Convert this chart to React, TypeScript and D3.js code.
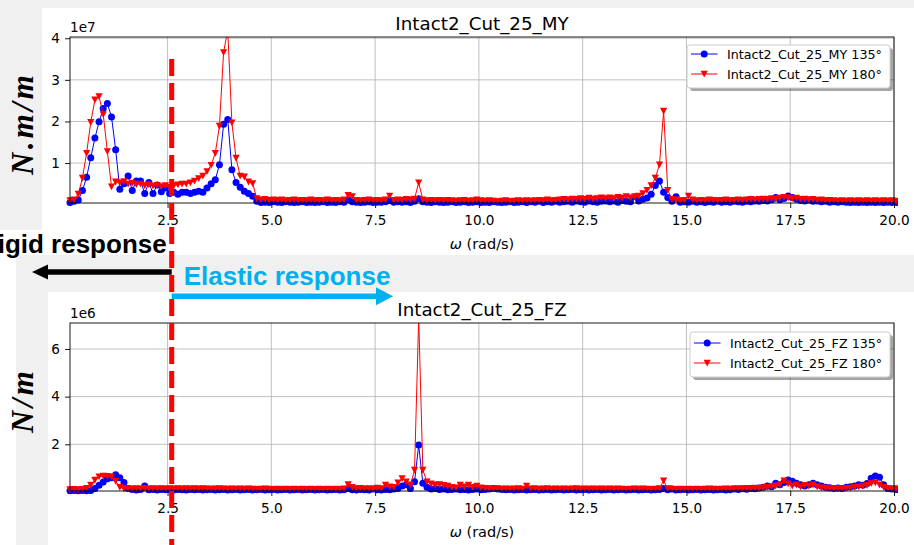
import * as d3 from "d3";
import { useEffect, useRef } from "react";

const width = 914;
const height = 545;
const PLOT_LEFT = 70;
const PLOT_RIGHT = 894;
const FONT = "'DejaVu Sans', sans-serif";
const BOLD_FONT = "'Liberation Sans', Arial, sans-serif";

// frequency grid (rad/s)
const OMEGA_START = 0.15;
const OMEGA_STEP = 0.1;
const OMEGA_MAX = 20;
const RIGID_LIMIT = 2.6;

// MY amplitude, x1e7 N.m/m
const my135 = [
  0.05, 0.08, 0.11, 0.34, 0.66, 1.13, 1.6, 1.99, 2.31, 2.43,
  2.11, 1.32, 0.37, 0.5, 0.69, 0.34, 0.57, 0.57, 0.27, 0.53,
  0.27, 0.47, 0.31, 0.4, 0.27, 0.3, 0.25, 0.3, 0.3, 0.27,
  0.3, 0.32, 0.3, 0.4, 0.5, 0.6, 0.96, 1.93, 2.05, 0.84,
  0.53, 0.42, 0.32, 0.27, 0.2, 0.08, 0.05, 0.06, 0.05, 0.07,
  0.06, 0.05, 0.07, 0.06, 0.05, 0.06, 0.07, 0.05, 0.06, 0.05,
  0.06, 0.07, 0.05, 0.06, 0.05, 0.07, 0.06, 0.12, 0.07, 0.06,
  0.05, 0.06, 0.07, 0.05, 0.06, 0.06, 0.07, 0.1, 0.06, 0.07,
  0.06, 0.07, 0.05, 0.08, 0.14, 0.07, 0.06, 0.05, 0.07, 0.06,
  0.05, 0.06, 0.07, 0.05, 0.06, 0.07, 0.05, 0.06, 0.07, 0.05,
  0.06, 0.05, 0.07, 0.06, 0.05, 0.06, 0.07, 0.05, 0.06, 0.07,
  0.05, 0.07, 0.06, 0.08, 0.05, 0.07, 0.06, 0.08, 0.06, 0.07,
  0.08, 0.06, 0.09, 0.07, 0.06, 0.09, 0.07, 0.06, 0.08, 0.09,
  0.07, 0.09, 0.06, 0.1, 0.08, 0.07, 0.19, 0.09, 0.13, 0.16,
  0.25, 0.46, 0.57, 0.3, 0.17, 0.08, 0.19, 0.06, 0.07, 0.06,
  0.08, 0.06, 0.07, 0.05, 0.07, 0.06, 0.08, 0.06, 0.07, 0.06,
  0.08, 0.07, 0.06, 0.08, 0.07, 0.09, 0.08, 0.1, 0.09, 0.12,
  0.17, 0.12, 0.15, 0.21, 0.17, 0.13, 0.1, 0.09, 0.11, 0.08,
  0.09, 0.07, 0.08, 0.06, 0.07, 0.06, 0.07, 0.06, 0.05, 0.06,
  0.05, 0.06, 0.05, 0.06, 0.05, 0.06, 0.05, 0.06, 0.05, 0.05,
];
const my180 = [
  0.1, 0.12, 0.26, 0.64, 1.24, 1.98, 2.52, 2.6, 2.17, 1.28,
  0.43, 0.55, 0.53, 0.56, 0.5, 0.52, 0.49, 0.5, 0.46, 0.48,
  0.45, 0.47, 0.44, 0.46, 0.42, 0.46, 0.48, 0.5, 0.5, 0.53,
  0.57, 0.63, 0.69, 0.8, 0.95, 1.24, 1.89, 3.66, 4.2, 1.97,
  1.12, 0.69, 0.67, 0.55, 0.51, 0.15, 0.12, 0.13, 0.11, 0.12,
  0.11, 0.12, 0.1, 0.11, 0.12, 0.1, 0.11, 0.1, 0.12, 0.1,
  0.11, 0.1, 0.12, 0.1, 0.11, 0.1, 0.12, 0.23, 0.2, 0.11,
  0.1, 0.11, 0.12, 0.1, 0.11, 0.1, 0.12, 0.21, 0.11, 0.12,
  0.11, 0.13, 0.12, 0.14, 0.53, 0.12, 0.1, 0.11, 0.1, 0.11,
  0.1, 0.11, 0.1, 0.09, 0.1, 0.11, 0.09, 0.1, 0.12, 0.1,
  0.09, 0.1, 0.09, 0.08, 0.09, 0.1, 0.08, 0.09, 0.1, 0.09,
  0.1, 0.09, 0.1, 0.11, 0.1, 0.12, 0.1, 0.11, 0.12, 0.13,
  0.12, 0.14, 0.13, 0.15, 0.13, 0.16, 0.14, 0.15, 0.17, 0.15,
  0.17, 0.15, 0.18, 0.16, 0.2, 0.17, 0.19, 0.21, 0.27, 0.35,
  0.46, 0.64, 0.96, 2.25, 0.35, 0.13, 0.12, 0.1, 0.11, 0.21,
  0.12, 0.1, 0.11, 0.1, 0.12, 0.11, 0.1, 0.11, 0.12, 0.1,
  0.11, 0.12, 0.11, 0.12, 0.13, 0.12, 0.13, 0.14, 0.13, 0.15,
  0.14, 0.16, 0.18, 0.17, 0.15, 0.16, 0.13, 0.14, 0.12, 0.13,
  0.11, 0.12, 0.1, 0.11, 0.1, 0.09, 0.1, 0.09, 0.1, 0.09,
  0.1, 0.09, 0.1, 0.09, 0.1, 0.09, 0.1, 0.09, 0.1, 0.09,
];

// FZ amplitude, x1e6 N/m
const fz135 = [
  0.05, 0.06, 0.05, 0.06, 0.05, 0.06, 0.15, 0.28, 0.42, 0.55,
  0.6, 0.72, 0.6, 0.4, 0.15, 0.1, 0.08, 0.1, 0.25, 0.09,
  0.1, 0.08, 0.1, 0.09, 0.1, 0.08, 0.1, 0.09, 0.08, 0.1,
  0.09, 0.1, 0.08, 0.09, 0.1, 0.08, 0.09, 0.1, 0.08, 0.09,
  0.1, 0.08, 0.09, 0.1, 0.08, 0.09, 0.1, 0.08, 0.09, 0.1,
  0.08, 0.09, 0.1, 0.08, 0.09, 0.1, 0.08, 0.09, 0.1, 0.08,
  0.09, 0.1, 0.08, 0.09, 0.1, 0.08, 0.09, 0.15, 0.09, 0.08,
  0.1, 0.09, 0.08, 0.12, 0.09, 0.08, 0.1, 0.09, 0.12, 0.15,
  0.25, 0.3, 0.15, 0.43, 1.97, 0.36, 0.2, 0.12, 0.15, 0.1,
  0.12, 0.09, 0.1, 0.12, 0.09, 0.1, 0.08, 0.1, 0.12, 0.09,
  0.1, 0.12, 0.14, 0.12, 0.1, 0.09, 0.1, 0.08, 0.09, 0.1,
  0.08, 0.09, 0.1, 0.08, 0.09, 0.1, 0.08, 0.09, 0.1, 0.08,
  0.09, 0.1, 0.08, 0.09, 0.1, 0.08, 0.09, 0.1, 0.08, 0.09,
  0.1, 0.08, 0.09, 0.1, 0.08, 0.09, 0.1, 0.08, 0.09, 0.1,
  0.08, 0.09, 0.1, 0.15, 0.09, 0.12, 0.08, 0.09, 0.1, 0.08,
  0.09, 0.1, 0.08, 0.09, 0.1, 0.08, 0.09, 0.1, 0.08, 0.09,
  0.12, 0.1, 0.13, 0.11, 0.15, 0.13, 0.17, 0.2, 0.25, 0.22,
  0.36, 0.3, 0.4, 0.5, 0.45, 0.36, 0.3, 0.25, 0.3, 0.36,
  0.3, 0.25, 0.2, 0.18, 0.15, 0.17, 0.15, 0.2, 0.22, 0.25,
  0.3, 0.28, 0.35, 0.57, 0.67, 0.62, 0.3, 0.15, 0.12, 0.1,
];
const fz180 = [
  0.1, 0.12, 0.1, 0.12, 0.16, 0.29, 0.5, 0.64, 0.67, 0.66,
  0.64, 0.45, 0.2, 0.14, 0.15, 0.14, 0.15, 0.14, 0.16, 0.14,
  0.15, 0.14, 0.15, 0.14, 0.15, 0.14, 0.15, 0.14, 0.15, 0.14,
  0.15, 0.14, 0.15, 0.14, 0.13, 0.14, 0.15, 0.14, 0.13, 0.14,
  0.13, 0.14, 0.13, 0.14, 0.13, 0.12, 0.13, 0.14, 0.13, 0.12,
  0.13, 0.12, 0.13, 0.12, 0.13, 0.12, 0.13, 0.12, 0.13, 0.12,
  0.13, 0.12, 0.13, 0.12, 0.13, 0.12, 0.14, 0.32, 0.2, 0.15,
  0.16, 0.14, 0.15, 0.13, 0.17, 0.15, 0.29, 0.22, 0.2, 0.39,
  0.57, 0.43, 0.3, 0.92, 7.3, 0.92, 0.43, 0.35, 0.3, 0.32,
  0.28, 0.25, 0.2, 0.18, 0.29, 0.22, 0.29, 0.2, 0.25, 0.18,
  0.16, 0.15, 0.14, 0.15, 0.13, 0.14, 0.13, 0.14, 0.15, 0.13,
  0.25, 0.14, 0.15, 0.13, 0.14, 0.15, 0.13, 0.14, 0.13, 0.14,
  0.13, 0.14, 0.15, 0.13, 0.14, 0.13, 0.14, 0.13, 0.14, 0.13,
  0.14, 0.13, 0.14, 0.13, 0.12, 0.13, 0.14, 0.13, 0.14, 0.13,
  0.12, 0.13, 0.15, 0.47, 0.15, 0.13, 0.12, 0.13, 0.12, 0.13,
  0.12, 0.13, 0.12, 0.13, 0.14, 0.13, 0.12, 0.13, 0.14, 0.13,
  0.14, 0.15, 0.14, 0.16, 0.15, 0.17, 0.16, 0.18, 0.2, 0.22,
  0.25, 0.3, 0.47, 0.35, 0.25, 0.3, 0.22, 0.28, 0.25, 0.3,
  0.22, 0.18, 0.17, 0.15, 0.14, 0.15, 0.14, 0.16, 0.17, 0.2,
  0.22, 0.25, 0.28, 0.36, 0.39, 0.3, 0.2, 0.15, 0.14, 0.15,
];

const xTicks = [2.5, 5, 7.5, 10, 12.5, 15, 17.5, 20];
const myTicks = [1, 2, 3, 4];
const fzTicks = [2, 4, 6];

const panels = [
  {
    id: "my",
    title: "Intact2_Cut_25_MY",
    top: 37,
    bottom: 203,
    yDomain: [0.04, 4.03],
    yTicks: myTicks,
    offsetText: "1e7",
    yLabel: "N.m/m",
    yLabelY: 125,
    yLabelLen: 100,
    series: [
      { label: "Intact2_Cut_25_MY 135°", values: my135, color: "#0000ff", marker: "o" },
      { label: "Intact2_Cut_25_MY 180°", values: my180, color: "#ff0000", marker: "v" },
    ],
    legend: { x: 687, y: 45, w: 203, h: 43, row: 9 },
  },
  {
    id: "fz",
    title: "Intact2_Cut_25_FZ",
    top: 323,
    bottom: 491,
    yDomain: [0.04, 7.09],
    yTicks: fzTicks,
    offsetText: "1e6",
    yLabel: "N/m",
    yLabelY: 402,
    yLabelLen: 62,
    series: [
      { label: "Intact2_Cut_25_FZ 135°", values: fz135, color: "#0000ff", marker: "o" },
      { label: "Intact2_Cut_25_FZ 180°", values: fz180, color: "#ff0000", marker: "v" },
    ],
    legend: { x: 690, y: 332, w: 200, h: 45, row: 11 },
  },
];

const TRIANGLE = "M-3.6,-3.2 L3.6,-3.2 L0,3.6 Z";

const xScale = d3.scaleLinear().domain([OMEGA_START, OMEGA_MAX]).range([PLOT_LEFT, PLOT_RIGHT]);

const drawMarker = (sel, s, cx, cy) => {
  if (s.marker === "o") {
    sel.append("circle").attr("cx", cx).attr("cy", cy).attr("r", 3.5).attr("fill", s.color);
  } else {
    sel
      .append("path")
      .attr("d", TRIANGLE)
      .attr("transform", `translate(${cx},${cy})`)
      .attr("fill", s.color);
  }
};

const drawPanel = (svg, p) => {
  const x = xScale;
  const y = d3.scaleLinear().domain(p.yDomain).range([p.bottom, p.top]);
  const g = svg.append("g").attr("class", `panel-${p.id}`);

  // grid
  const grid = g.append("g").attr("stroke", "#b0b0b0").attr("stroke-width", 0.8);
  grid
    .selectAll(".gx")
    .data(xTicks)
    .join("line")
    .attr("class", "gx")
    .attr("x1", (d) => x(d))
    .attr("x2", (d) => x(d))
    .attr("y1", p.top)
    .attr("y2", p.bottom);
  grid
    .selectAll(".gy")
    .data(p.yTicks)
    .join("line")
    .attr("class", "gy")
    .attr("x1", PLOT_LEFT)
    .attr("x2", PLOT_RIGHT)
    .attr("y1", (d) => y(d))
    .attr("y2", (d) => y(d));

  const clipId = `clip-${p.id}`;
  g.append("clipPath")
    .attr("id", clipId)
    .append("rect")
    .attr("x", PLOT_LEFT - 4)
    .attr("y", p.top)
    .attr("width", PLOT_RIGHT - PLOT_LEFT + 8)
    .attr("height", p.bottom - p.top + 4);

  const plot = g.append("g").attr("clip-path", `url(#${clipId})`);
  p.series.forEach((s) => {
    const pts = s.values.map((v, i) => [OMEGA_START + i * OMEGA_STEP, v]);
    const line = d3
      .line()
      .x((d) => x(d[0]))
      .y((d) => y(d[1]));
    const sg = plot.append("g");
    sg.append("path")
      .attr("d", line(pts))
      .attr("fill", "none")
      .attr("stroke", s.color)
      .attr("stroke-width", 1);
    pts.forEach((d) => drawMarker(sg, s, x(d[0]), y(d[1])));
  });

  // frame
  g.append("rect")
    .attr("x", PLOT_LEFT)
    .attr("y", p.top)
    .attr("width", PLOT_RIGHT - PLOT_LEFT)
    .attr("height", p.bottom - p.top)
    .attr("fill", "none")
    .attr("stroke", "#000")
    .attr("stroke-width", 0.9);

  const xAxis = g
    .append("g")
    .attr("transform", `translate(0,${p.bottom})`)
    .call(d3.axisBottom(x).tickValues(xTicks).tickFormat(d3.format(".1f")).tickSize(5).tickPadding(7));
  const yAxis = g
    .append("g")
    .attr("transform", `translate(${PLOT_LEFT},0)`)
    .call(d3.axisLeft(y).tickValues(p.yTicks).tickFormat(d3.format("d")).tickSize(5).tickPadding(5));
  [xAxis, yAxis].forEach((a) => {
    a.select(".domain").remove();
    a.attr("font-family", FONT).attr("font-size", 13.6);
    a.selectAll("line").attr("stroke", "#000").attr("stroke-width", 0.9);
    a.selectAll("text").attr("fill", "#000");
  });

  g.append("text")
    .attr("x", PLOT_LEFT)
    .attr("y", p.top - 5.5)
    .attr("font-family", FONT)
    .attr("font-size", 13.6)
    .text(p.offsetText);

  g.append("text")
    .attr("x", (PLOT_LEFT + PLOT_RIGHT) / 2)
    .attr("y", p.top - 7)
    .attr("text-anchor", "middle")
    .attr("font-family", FONT)
    .attr("font-size", 18.3)
    .text(p.title);

  const xl = g
    .append("text")
    .attr("x", (PLOT_LEFT + PLOT_RIGHT) / 2)
    .attr("y", p.bottom + 46)
    .attr("text-anchor", "middle")
    .attr("font-family", FONT)
    .attr("font-size", 14.5);
  xl.append("tspan").attr("font-style", "italic").text("ω");
  xl.append("tspan").text(" (rad/s)");

  g.append("text")
    .attr("transform", `translate(33,${p.yLabelY}) rotate(-90)`)
    .attr("text-anchor", "middle")
    .attr("font-family", "'Liberation Serif', 'DejaVu Serif', serif")
    .attr("font-weight", "bold")
    .attr("font-style", "italic")
    .attr("font-size", 31)
    .attr("textLength", p.yLabelLen)
    .attr("lengthAdjust", "spacing")
    .text(p.yLabel);

  // legend
  const L = p.legend;
  const lg = g.append("g");
  lg.append("rect")
    .attr("x", L.x + 3)
    .attr("y", L.y + 3)
    .attr("width", L.w)
    .attr("height", L.h)
    .attr("rx", 3)
    .attr("fill", "#000")
    .attr("opacity", 0.35);
  lg.append("rect")
    .attr("x", L.x)
    .attr("y", L.y)
    .attr("width", L.w)
    .attr("height", L.h)
    .attr("rx", 3)
    .attr("fill", "#fff")
    .attr("stroke", "#cccccc")
    .attr("stroke-width", 1);
  p.series.forEach((s, i) => {
    const cy = L.y + L.row + i * 20;
    lg.append("line")
      .attr("x1", L.x + 4)
      .attr("x2", L.x + 30.5)
      .attr("y1", cy)
      .attr("y2", cy)
      .attr("stroke", s.color)
      .attr("stroke-width", 1);
    drawMarker(lg, s, L.x + 17.2, cy);
    lg.append("text")
      .attr("x", L.x + 40)
      .attr("y", cy)
      .attr("dy", "0.36em")
      .attr("font-family", FONT)
      .attr("font-size", 12.7)
      .text(s.label);
  });
};

const drawArrow = (svg, x0, x1, yc, thick, headLen, headHalf, color) => {
  const dir = Math.sign(x1 - x0);
  const xb = x1 - dir * headLen;
  svg
    .append("path")
    .attr(
      "d",
      `M${x0},${yc - thick / 2} L${xb},${yc - thick / 2} L${xb},${yc - headHalf} L${x1},${yc} L${xb},${yc + headHalf} L${xb},${yc + thick / 2} L${x0},${yc + thick / 2} Z`
    )
    .attr("fill", color);
};

const App = () => {
  const svgRef = useRef(null);

  useEffect(() => {
    document.body.style.margin = "0";
    const svg = d3.select(svgRef.current);
    svg.selectAll("*").remove();

    // screenshot backgrounds
    svg.append("rect").attr("width", width).attr("height", height).attr("fill", "#fff");
    const bg = svg.append("g").attr("fill", "#f0f0f0");
    bg.append("rect").attr("x", 0).attr("y", 0).attr("width", width).attr("height", 8);
    bg.append("rect").attr("x", 0).attr("y", 0).attr("width", 42).attr("height", 230);
    bg.append("rect").attr("x", 16).attr("y", 255).attr("width", width - 16).attr("height", 37);
    bg.append("rect").attr("x", 16).attr("y", 292).attr("width", 32).attr("height", height - 292);

    panels.forEach((p) => drawPanel(svg, p));

    // rigid / elastic boundary
    const xr = xScale(RIGID_LIMIT);
    svg
      .append("line")
      .attr("x1", xr)
      .attr("x2", xr)
      .attr("y1", 59)
      .attr("y2", height)
      .attr("stroke", "#ff0000")
      .attr("stroke-width", 5)
      .attr("stroke-dasharray", "17 7");

    drawArrow(svg, xr, 32, 272, 5.5, 16, 7.5, "#000");
    drawArrow(svg, xr, 393, 296.3, 5.5, 17, 9, "#00b0f0");

    svg
      .append("text")
      .attr("x", xr - 5)
      .attr("y", 253)
      .attr("text-anchor", "end")
      .attr("font-family", BOLD_FONT)
      .attr("font-weight", "bold")
      .attr("font-size", 26)
      .attr("fill", "#000")
      .text("Rigid response");

    svg
      .append("text")
      .attr("x", xr + 12)
      .attr("y", 285)
      .attr("font-family", BOLD_FONT)
      .attr("font-weight", "bold")
      .attr("font-size", 26)
      .attr("fill", "#00b0f0")
      .text("Elastic response");
  }, []);

  return <svg ref={svgRef} width={width} height={height} style={{ display: "block" }} />;
};

export default App;
